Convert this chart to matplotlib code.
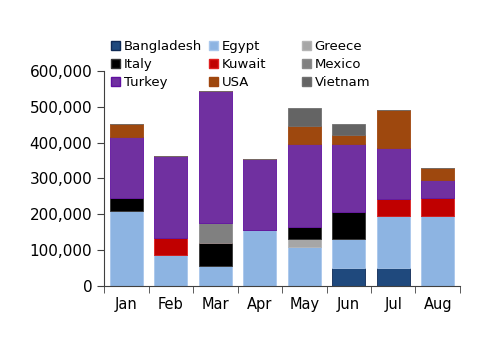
import numpy as np
import matplotlib.pyplot as plt
from matplotlib.patches import Patch
from matplotlib.ticker import FuncFormatter

months = ['Jan', 'Feb', 'Mar', 'Apr', 'May', 'Jun', 'Jul', 'Aug']
bangladesh = [0, 0, 0, 0, 0, 49000, 49000, 0]
egypt = [210000, 85000, 56000, 156000, 110000, 81000, 145000, 196000]
greece = [0, 0, 0, 0, 20000, 0, 0, 0]
italy = [35000, 0, 63000, 0, 35000, 75000, 0, 0]
kuwait = [0, 50000, 0, 0, 0, 0, 49000, 50000]
mexico = [0, 0, 56000, 0, 0, 0, 0, 0]
turkey = [170000, 229000, 370000, 199000, 232000, 192000, 143000, 50000]
usa = [37000, 0, 0, 0, 50000, 23000, 106000, 33000]
vietnam = [0, 0, 0, 0, 50000, 32000, 0, 0]

series = [('Bangladesh', bangladesh, '#1F497D', '#0F2A55'),
          ('Egypt', egypt, '#8DB4E2', '#A9C7EC'),
          ('Greece', greece, '#A6A6A6', '#B5B5B5'),
          ('Italy', italy, '#000000', '#333333'),
          ('Kuwait', kuwait, '#C00000', '#E02020'),
          ('Mexico', mexico, '#808080', '#8C8C8C'),
          ('Turkey', turkey, '#7030A0', '#6010A0'),
          ('USA', usa, '#9E480E', '#A0460E'),
          ('Vietnam', vietnam, '#646464', '#707070')]

plt.rcParams['font.family'] = 'DejaVu Sans'
fig = plt.figure(figsize=(5, 3.53), dpi=100)
ax = fig.add_axes([0.208, 0.19, 0.712, 0.609])

x = np.arange(len(months))
bottom = np.zeros(len(months))
for name, vals, col, edge in series:
    vals = np.array(vals, dtype=float)
    ax.bar(x, vals, 0.75, bottom=bottom, color=col, edgecolor=edge,
           linewidth=0.6, label=name)
    bottom += vals

ax.set_xlim(-0.5, len(months) - 0.5)
ax.set_ylim(0, 600000)
ax.set_yticks(np.arange(0, 600001, 100000))
ax.yaxis.set_major_formatter(FuncFormatter(lambda v, p: f'{int(v):,}'))
ax.set_xticks(x)
ax.set_xticklabels(months)
ax.set_xticks(np.arange(-0.5, len(months)), minor=True)
ax.tick_params(axis='x', which='major', length=0, pad=8, labelsize=10.5)
ax.tick_params(axis='x', which='minor', length=5, direction='out', color='#404040')
ax.tick_params(axis='y', length=5, direction='out', color='#404040', labelsize=11)
for s in ['top', 'right']:
    ax.spines[s].set_visible(False)
for s in ['left', 'bottom']:
    ax.spines[s].set_color('#404040')

# legend in three equal-width columns, as in the original
cols = [[0, 3, 6], [1, 4, 7], [2, 5, 8]]
xpos = [0.221, 0.417, 0.603]
for ci, idx in enumerate(cols):
    handles = [Patch(facecolor=series[i][2], edgecolor=series[i][3], label=series[i][0]) for i in idx]
    leg = fig.legend(handles=handles, loc='upper left', bbox_to_anchor=(xpos[ci], 0.887),
                     frameon=False, fontsize=9.5, handlelength=0.7, handleheight=0.7,
                     handletextpad=0.3, labelspacing=0.38, borderaxespad=0, borderpad=0)

fig.savefig('out.png', dpi=100)
